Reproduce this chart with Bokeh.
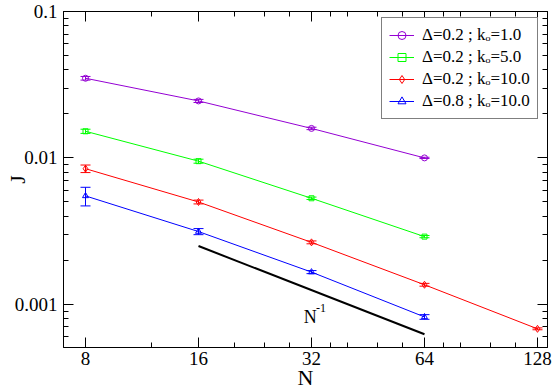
from bokeh.plotting import figure
from bokeh.models import (FixedTicker, CustomJSTickFormatter, LogAxis, Whisker, TeeHead,
                          ColumnDataSource, Legend, LegendItem, Label, Range1d)
from bokeh.embed import file_html
from bokeh.resources import INLINE

# ---- data ----
N_a = [8, 16, 32, 64]
J_a = [0.0350, 0.0245, 0.0159, 0.0100]
E_a = [0.0010, 0.0006, 0.0003, 0.0001]

N_b = [8, 16, 32, 64]
J_b = [0.0152, 0.0095, 0.0053, 0.0029]
E_b = [0.0005, 0.0003, 0.0001, 0.00005]

N_c = [8, 16, 32, 64, 128]
J_c = [0.00844, 0.00500, 0.00265, 0.00136, 0.00068]
E_c = [0.0005, 0.00015, 0.00006, 0.00003, 0.00001]

N_d = [8, 16, 32, 64]
J_d = [0.0055, 0.00314, 0.00166, 0.00082]
E_d = [0.0008, 0.00015, 0.00004, 0.00003]

labels = ["Δ=0.2 ; kₒ=1.0", "Δ=0.2 ; kₒ=5.0", "Δ=0.2 ; kₒ=10.0", "Δ=0.8 ; kₒ=10.0"]
colors = ["#9400D3", "#00FF00", "#FF0000", "#0000FF"]
markers = ["circle", "square", "diamond", "triangle"]
marker_sizes = [6, 5, 7, 6]

ref_N = [16, 64]
ref_J = [0.0025, 0.000625]

x_major = [8, 16, 32, 64, 128]
x_minor = [12, 20, 24, 28, 36, 40, 48, 56, 72, 80, 96, 112]
y_major = [0.001, 0.01, 0.1]
y_minor = [k * 10.0 ** e for e in (-4, -3, -2) for k in range(2, 10)]

FONT = "Liberation Serif"

p = figure(width=554, height=392, x_axis_type="log", y_axis_type="log",
           x_range=Range1d(6.99, 136.1), y_range=Range1d(0.000507, 0.1),
           output_backend="svg", toolbar_location=None,
           min_border_left=63, min_border_right=7, min_border_top=11, min_border_bottom=42)
p.background_fill_color = "white"
p.border_fill_color = "white"
p.outline_line_color = "black"
p.xgrid.visible = False
p.ygrid.visible = False

def style_axis(ax, ticks, minor):
    ax.ticker = FixedTicker(ticks=ticks, minor_ticks=minor)
    ax.axis_line_color = "black"
    ax.major_tick_line_color = "black"
    ax.minor_tick_line_color = "black"
    ax.major_tick_in = 10
    ax.major_tick_out = 0
    ax.minor_tick_in = 5
    ax.minor_tick_out = 0
    ax.major_label_text_font = FONT
    ax.major_label_text_font_size = "19px"
    ax.major_label_text_color = "black"
    ax.axis_label_text_font = FONT
    ax.axis_label_text_font_style = "normal"
    ax.axis_label_text_color = "black"

style_axis(p.xaxis[0], x_major, x_minor)
style_axis(p.yaxis[0], y_major, y_minor)
p.xaxis[0].formatter = CustomJSTickFormatter(code="return tick.toString();")
p.yaxis[0].formatter = CustomJSTickFormatter(code="return tick.toString();")
p.xaxis[0].major_label_standoff = 4
p.yaxis[0].major_label_standoff = 6
p.xaxis[0].axis_label = "N"
p.xaxis[0].axis_label_text_font_size = "22px"
p.xaxis[0].axis_label_standoff = -3
p.yaxis[0].axis_label = "J"
p.yaxis[0].axis_label_text_font_size = "22px"
p.yaxis[0].axis_label_standoff = -18

top_ax = LogAxis()
right_ax = LogAxis()
style_axis(top_ax, x_major, x_minor)
style_axis(right_ax, y_major, y_minor)
for ax in (top_ax, right_ax):
    ax.formatter = CustomJSTickFormatter(code="return '';")
    ax.major_label_standoff = 0
p.add_layout(top_ax, "above")
p.add_layout(right_ax, "right")

# reference slope line
p.line(ref_N, ref_J, line_color="black", line_width=2)

items = []
for Ns, Js, Es, lab, col, mk, ms in zip([N_a, N_b, N_c, N_d], [J_a, J_b, J_c, J_d],
                                         [E_a, E_b, E_c, E_d], labels, colors, markers, marker_sizes):
    src = ColumnDataSource(dict(x=Ns, y=Js,
                                up=[j + e for j, e in zip(Js, Es)],
                                lo=[j - e for j, e in zip(Js, Es)]))
    w = Whisker(base="x", upper="up", lower="lo", source=src, dimension="height",
                line_color=col, line_width=1,
                upper_head=TeeHead(size=10, line_color=col, line_width=1),
                lower_head=TeeHead(size=10, line_color=col, line_width=1))
    p.add_layout(w)
    lr = p.line("x", "y", source=src, line_color=col, line_width=1)
    sr = p.scatter("x", "y", source=src, marker=mk, size=ms, line_color=col,
                   fill_color=None, line_width=1)
    items.append(LegendItem(label=lab, renderers=[lr, sr]))

legend = Legend(items=items, location=(318, 228), border_line_color="black",
                border_line_width=1, background_fill_color="white", background_fill_alpha=1,
                padding=7, spacing=2, margin=0, glyph_width=25, glyph_height=20,
                label_height=20, label_standoff=8, label_text_font=FONT,
                label_text_font_size="17px", label_text_color="black")
p.add_layout(legend)

# N^-1 annotation
p.add_layout(Label(x=30.5, y=0.00082, text="N", text_font=FONT, text_font_size="18px",
                   text_color="black", text_baseline="alphabetic"))
p.add_layout(Label(x=32.9, y=0.00095, text="-1", text_font=FONT, text_font_size="12px",
                   text_color="black", text_baseline="alphabetic"))

open("out.html", "w").write(file_html(p, INLINE))
